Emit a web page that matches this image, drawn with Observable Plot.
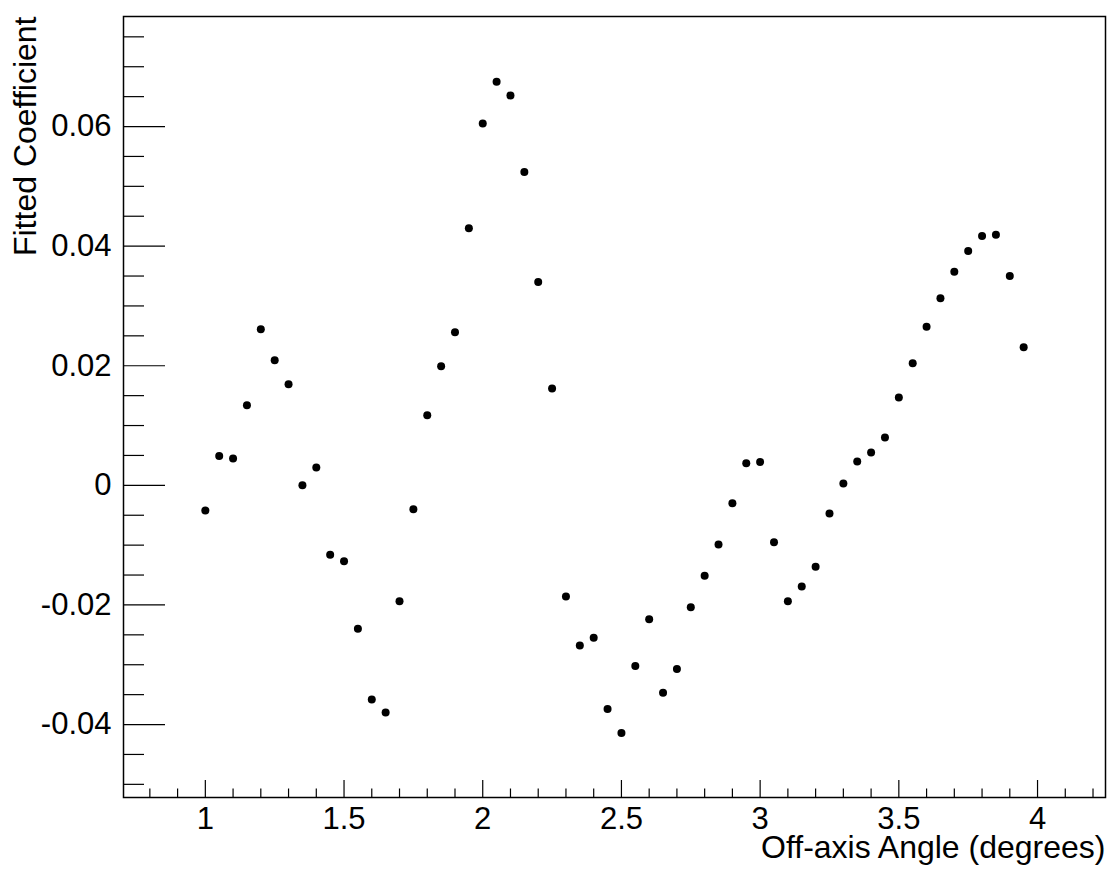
<!DOCTYPE html>
<html>
<head>
<meta charset="utf-8">
<script src="https://cdn.jsdelivr.net/npm/d3@7"></script>
<script src="https://cdn.jsdelivr.net/npm/@observablehq/plot@0.6"></script>
<style>
  html, body { margin: 0; padding: 0; background: #fff; }
  #chart svg { display: block; background: #fff; }
</style>
</head>
<body>
<div id="chart"></div>
<script>
const angles = [1.00, 1.05, 1.10, 1.15, 1.20, 1.25, 1.30, 1.35, 1.40, 1.45,
  1.50, 1.55, 1.60, 1.65, 1.70, 1.75, 1.80, 1.85, 1.90, 1.95,
  2.00, 2.05, 2.10, 2.15, 2.20, 2.25, 2.30, 2.35, 2.40, 2.45,
  2.50, 2.55, 2.60, 2.65, 2.70, 2.75, 2.80, 2.85, 2.90, 2.95,
  3.00, 3.05, 3.10, 3.15, 3.20, 3.25, 3.30, 3.35, 3.40, 3.45,
  3.50, 3.55, 3.60, 3.65, 3.70, 3.75, 3.80, 3.85, 3.90, 3.95];
const coefficients = [-0.0042, 0.0049, 0.0045, 0.0134, 0.0261, 0.0209, 0.0169, 0.0000, 0.0030, -0.0116,
  -0.0127, -0.0240, -0.0358, -0.0380, -0.0194, -0.0040, 0.0117, 0.0199, 0.0256, 0.0430,
  0.0605, 0.0675, 0.0652, 0.0524, 0.0340, 0.0162, -0.0186, -0.0268, -0.0255, -0.0374,
  -0.0414, -0.0302, -0.0224, -0.0347, -0.0307, -0.0204, -0.0151, -0.0099, -0.0030, 0.0037,
  0.0039, -0.0095, -0.0194, -0.0169, -0.0136, -0.0047, 0.0003, 0.0040, 0.0055, 0.0080,
  0.0147, 0.0204, 0.0265, 0.0313, 0.0357, 0.0392, 0.0417, 0.0419, 0.0350, 0.0231];

const xMajorTicks = [1, 1.5, 2, 2.5, 3, 3.5, 4];
const xMinorTicks = [0.8, 0.9, 1.1, 1.2, 1.3, 1.4, 1.6, 1.7, 1.8, 1.9, 2.1, 2.2, 2.3, 2.4,
  2.6, 2.7, 2.8, 2.9, 3.1, 3.2, 3.3, 3.4, 3.6, 3.7, 3.8, 3.9, 4.1, 4.2];
const yMajorTicks = [-0.04, -0.02, 0, 0.02, 0.04, 0.06];
const yMinorTicks = [-0.05, -0.045, -0.035, -0.03, -0.025, -0.015, -0.01, -0.005,
  0.005, 0.01, 0.015, 0.025, 0.03, 0.035, 0.045, 0.05, 0.055, 0.065, 0.07, 0.075];
const xTitle = "Off-axis Angle (degrees)";
const yTitle = "Fitted Coefficient";

const points = angles.map((a, i) => ({angle: a, coef: coefficients[i]}));

const W = 1119, H = 883;
const mL = 123, mR = 14, mT = 16, mB = 86;
const plotW = W - mL - mR, plotH = H - mT - mB;
const font = "'Liberation Sans', Arial, Helvetica, sans-serif";

const chart = Plot.plot({
  width: W,
  height: H,
  marginLeft: mL,
  marginRight: mR,
  marginTop: mT,
  marginBottom: mB,
  style: {fontFamily: font, background: "#fff", color: "#000"},
  x: {domain: [0.705, 4.245], axis: null},
  y: {domain: [-0.0522, 0.0784], axis: null},
  marks: [
    Plot.frame({stroke: "#000", strokeWidth: 1.5}),
    Plot.tickX(xMajorTicks, {x: d => d, insetTop: plotH - 17, stroke: "#000", strokeWidth: 1.2}),
    Plot.tickX(xMinorTicks, {x: d => d, insetTop: plotH - 8.5, stroke: "#000", strokeWidth: 1.2}),
    Plot.tickY(yMajorTicks, {y: d => d, insetRight: plotW - 42, stroke: "#000", strokeWidth: 1.2}),
    Plot.tickY(yMinorTicks, {y: d => d, insetRight: plotW - 21, stroke: "#000", strokeWidth: 1.2}),
    Plot.axisX(xMajorTicks, {tickSize: 0, tickPadding: 9, fontSize: 31, tickFormat: d => String(d), label: null}),
    Plot.axisY(yMajorTicks, {tickSize: 0, tickPadding: 12, fontSize: 31, tickFormat: d => String(d), label: null}),
    Plot.dot(points, {x: "angle", y: "coef", r: 4, fill: "#000", stroke: null}),
    Plot.text([xTitle], {frameAnchor: "bottom-right", text: d => d, textAnchor: "end", lineAnchor: "bottom", dy: 60, fontSize: 32, fill: "#000"}),
    Plot.text([yTitle], {frameAnchor: "top-left", text: d => d, textAnchor: "end", lineAnchor: "bottom", rotate: -90, dx: -88, dy: 0, fontSize: 32, fill: "#000"})
  ]
});
document.getElementById("chart").appendChild(chart);
</script>
</body>
</html>
